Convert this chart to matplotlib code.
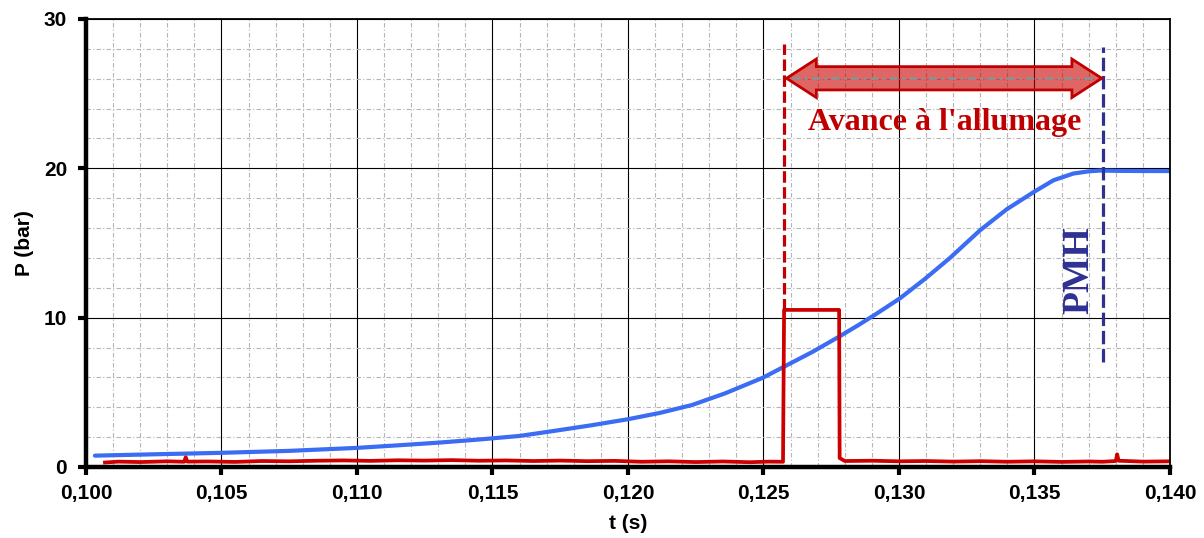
import matplotlib
matplotlib.use("Agg")
import matplotlib.pyplot as plt
from matplotlib.patches import Polygon
from matplotlib.ticker import MultipleLocator, FuncFormatter

# ---------------- data ----------------
blue_t = [0.10033, 0.1025, 0.1050, 0.1075, 0.1100, 0.1115, 0.1130, 0.1145,
          0.11600, 0.11725, 0.11860, 0.12000, 0.12117, 0.12236, 0.12358, 0.12498,
          0.12576, 0.12680, 0.12779, 0.12850, 0.12920, 0.13004, 0.13096, 0.13188,
          0.13299, 0.13397, 0.13496, 0.13570, 0.13643, 0.13700, 0.13742, 0.13815,
          0.13900, 0.14000]
blue_p = [0.76, 0.85, 0.95, 1.08, 1.28, 1.45, 1.63, 1.84,
          2.08, 2.41, 2.78, 3.20, 3.62, 4.15, 4.93, 5.98,
          6.72, 7.70, 8.73, 9.50, 10.30, 11.30, 12.60, 14.00,
          15.85, 17.25, 18.40, 19.20, 19.65, 19.80, 19.85, 19.83,
          19.82, 19.82]

red_t = [0.1007, 0.1012, 0.1020, 0.1030, 0.10362, 0.10368, 0.10374, 0.1045, 0.1055,
         0.1065, 0.1075, 0.1085, 0.1095, 0.1105, 0.1115, 0.1125, 0.1135, 0.1145,
         0.1155, 0.1165, 0.1175, 0.1185, 0.1195, 0.1205, 0.1215, 0.1225, 0.1235,
         0.1245, 0.1252, 0.12572,
         0.12576, 0.12779, 0.12781, 0.12800,
         0.1290, 0.1300, 0.1310, 0.1320, 0.1330, 0.1340, 0.1350, 0.1360, 0.1370,
         0.1375, 0.13800, 0.13805, 0.13810, 0.1390, 0.1400]
red_p = [0.30, 0.36, 0.33, 0.38, 0.35, 0.65, 0.36, 0.37, 0.34,
         0.40, 0.38, 0.42, 0.44, 0.41, 0.45, 0.43, 0.46, 0.42,
         0.44, 0.40, 0.43, 0.39, 0.41, 0.35, 0.38, 0.33, 0.37,
         0.32, 0.36, 0.35,
         10.52, 10.52, 0.60, 0.40,
         0.42, 0.38, 0.40, 0.36, 0.39, 0.35, 0.38, 0.34, 0.37,
         0.35, 0.40, 0.85, 0.42, 0.36, 0.38]

t_ign = 0.12576      # ignition
t_pmh = 0.13751      # top dead centre
ign_line = (10.52, 28.3)
pmh_line = (7.0, 28.1)
arrow_y = 26.03
label_avance = "Avance à l'allumage"
label_pmh = "PMH"

x_ticks_major = 0.005
y_ticks_major = 10

# ---------------- figure ----------------
fig = plt.figure(figsize=(12.04, 5.38), dpi=100)
ax = fig.add_axes([86/1204, 71/538, (1170-86)/1204, (467-19)/538])

blue_c = '#3a6cf4'
red_c = '#cc0000'
dred = '#c00000'
dblue = '#2e3192'

ax.plot(blue_t, blue_p, color=blue_c, lw=3.0, zorder=3,
        solid_capstyle='round', solid_joinstyle='round')
ax.plot(red_t, red_p, color=red_c, lw=2.7, zorder=4, solid_joinstyle='round')

# vertical markers
ax.plot([t_ign, t_ign], ign_line, color=dred, lw=2.3, ls=(0, (3.6, 1.4)), zorder=5)
ax.plot([t_pmh, t_pmh], pmh_line, color=dblue, lw=2.3, ls=(0, (4.2, 1.5)), zorder=5)

# double arrow
hl = 0.0011
hs = 0.78
hh = 1.29
a0 = t_ign + 0.00009
a1 = t_pmh - 0.00003
verts = [(a0, arrow_y), (a0 + hl, arrow_y + hh), (a0 + hl, arrow_y + hs),
         (a1 - hl, arrow_y + hs), (a1 - hl, arrow_y + hh), (a1, arrow_y),
         (a1 - hl, arrow_y - hh), (a1 - hl, arrow_y - hs), (a0 + hl, arrow_y - hs),
         (a0 + hl, arrow_y - hh)]
ax.add_patch(Polygon(verts, closed=True, facecolor=(0.80, 0.0, 0.0, 0.6),
                     edgecolor=dred, lw=2.0, zorder=6))
ax.plot([a0 + 0.0002, a1 - 0.0002], [arrow_y, arrow_y], color='#8f8f8f', lw=2.0,
        ls=(0, (3, 1.5, 1, 1.5)), zorder=7)

ax.text((t_ign + t_pmh) / 2 + 0.00005, 22.57, label_avance, color=dred,
        fontsize=23, fontweight='bold', family='Liberation Serif',
        ha='center', va='baseline', zorder=8)
ax.text(0.13664, 13.2, label_pmh, color=dblue, fontsize=27, fontweight='bold',
        family='Liberation Serif', rotation=90, ha='center', va='center', zorder=8)

# axes
ax.set_xlim(0.100, 0.140)
ax.set_ylim(0, 30)
ax.xaxis.set_major_locator(MultipleLocator(x_ticks_major))
ax.xaxis.set_minor_locator(MultipleLocator(0.001))
ax.yaxis.set_major_locator(MultipleLocator(y_ticks_major))
ax.yaxis.set_minor_locator(MultipleLocator(2))
ax.xaxis.set_major_formatter(FuncFormatter(lambda v, p: f"{v:.3f}".replace('.', ',')))
ax.yaxis.set_major_formatter(FuncFormatter(lambda v, p: f"{v:.0f}"))

ax.set_axisbelow(True)
ax.grid(which='major', color='black', lw=0.8, zorder=0)
ax.grid(which='minor', color='#b5b5b5', lw=0.8, ls=(0, (4, 2, 1, 2)), zorder=0)

for s in ['left', 'bottom']:
    ax.spines[s].set_linewidth(3.2)
for s in ['top', 'right']:
    ax.spines[s].set_linewidth(1.3)
for s in ax.spines.values():
    s.set_zorder(9)

ax.tick_params(which='major', direction='out', length=5.5, width=3, labelsize=15)
ax.tick_params(axis='y', which='major', pad=8)
ax.tick_params(axis='x', which='major', pad=7)
ax.tick_params(which='minor', length=0)
for lab in ax.get_xticklabels() + ax.get_yticklabels():
    lab.set_fontweight('bold')
    lab.set_family('Liberation Sans')

ax.set_xlabel('t (s)', fontsize=15, fontweight='bold', family='Liberation Sans', labelpad=8)
ax.set_ylabel('P (bar)', fontsize=15, fontweight='bold', family='Liberation Sans', labelpad=7)

fig.savefig('out.png', dpi=100)
